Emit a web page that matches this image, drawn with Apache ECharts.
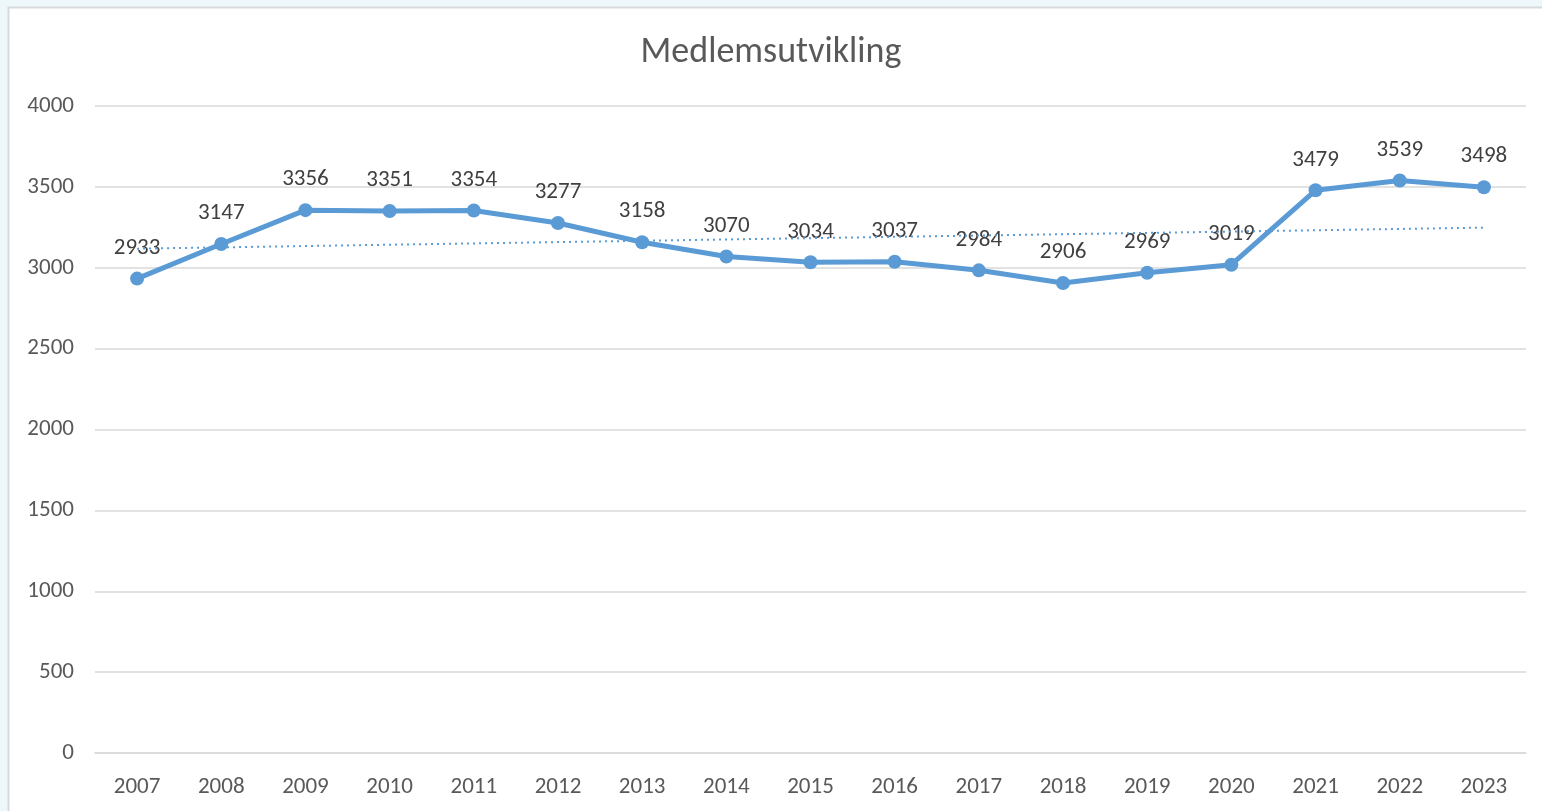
<!DOCTYPE html>
<html>
<head>
<meta charset="utf-8">
<script src="https://cdn.jsdelivr.net/npm/echarts@6/dist/echarts.min.js"></script>
<style>
html,body{margin:0;padding:0;background:#eef7fa;}
#chart{width:1542px;height:811px;}
</style>
</head>
<body>
<div id="chart"></div>
<script>
const years = ['2007','2008','2009','2010','2011','2012','2013','2014','2015','2016','2017','2018','2019','2020','2021','2022','2023'];
const members = [2933,3147,3356,3351,3354,3277,3158,3070,3034,3037,2984,2906,2969,3019,3479,3539,3498];
const trendEnds = [3118, 3248];
const yTicks = [0,500,1000,1500,2000,2500,3000,3500,4000];
const titleText = 'Medlemsutvikling';

const FONT = 'Carlito, Lato, "Liberation Sans", sans-serif';
const chart = echarts.init(document.getElementById('chart'), null, {renderer:'canvas'});
chart.setOption({
  backgroundColor: 'transparent',
  animation: false,
  graphic: [{
    type: 'rect', z: -10, silent: true,
    shape: {x: 8.5, y: 7.5, width: 1600, height: 900},
    style: {fill: '#ffffff', stroke: '#d9d9d9', lineWidth: 2}
  }],
  title: {
    text: titleText, left: 'center', top: 30,
    textStyle: {fontFamily: FONT, fontSize: 36, fontWeight: 'normal', color: '#595959'}
  },
  grid: {left: 95, right: 16, top: 106, bottom: 58, containLabel: false},
  xAxis: {
    type: 'category', data: years, boundaryGap: true,
    axisLine: {show: true, lineStyle: {color: '#d9d9d9', width: 1.5}},
    axisTick: {show: false},
    axisLabel: {fontFamily: FONT, fontSize: 23, color: '#595959', margin: 23}
  },
  yAxis: {
    type: 'value', min: yTicks[0], max: yTicks[yTicks.length-1], interval: 500,
    axisLine: {show: false}, axisTick: {show: false},
    splitLine: {lineStyle: {color: '#d9d9d9', width: 1.5}},
    axisLabel: {fontFamily: FONT, fontSize: 23, color: '#595959', margin: 21,
      formatter: v => String(v)}
  },
  series: [{
    type: 'line', data: members,
    symbol: 'circle', symbolSize: 14,
    lineStyle: {color: '#5b9bd5', width: 5},
    itemStyle: {color: '#5b9bd5'},
    label: {show: true, position: 'top', distance: 12, fontFamily: FONT, fontSize: 23, color: '#404040'},
    z: 3,
    markLine: {
      silent: true, symbol: 'none', animation: false,
      label: {show: false},
      lineStyle: {color: '#5b9bd5', width: 2, type: [2, 4]},
      data: [[{coord: [years[0], trendEnds[0]]}, {coord: [years[years.length-1], trendEnds[1]]}]]
    }
  }]
});
</script>
</body>
</html>
